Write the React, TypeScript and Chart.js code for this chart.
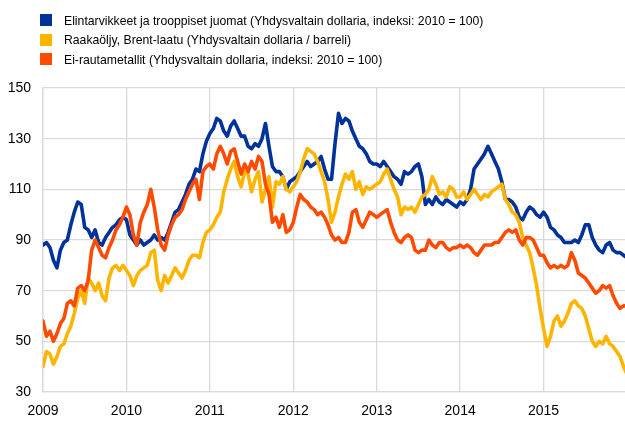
import React, { useEffect, useRef } from "react";
import { Chart, registerables } from "chart.js";

Chart.register(...registerables);

// ---- Data ----
const SERIES_NAMES = [
  "Elintarvikkeet ja trooppiset juomat (Yhdysvaltain dollaria, indeksi: 2010 = 100)",
  "Raakaöljy, Brent-laatu (Yhdysvaltain dollaria / barreli)",
  "Ei-rautametallit (Yhdysvaltain dollaria, indeksi: 2010 = 100)",
];

const X_TICK_YEARS = [2009, 2010, 2011, 2012, 2013, 2014, 2015];
const Y_TICKS = [30, 50, 70, 90, 110, 130, 150];

// semi-monthly observation dates, 2009.0 .. 2016.0
const DATES = Array.from({ length: 169 }, (_, i) => 2009 + i / 24);

const FOOD = [
  // 2009
  88, 89, 87, 82, 79, 86, 89, 90, 96, 101, 105, 104, 95, 94, 91, 94, 89, 88, 91, 93, 95, 96, 98, 99,
  // 2010
  98, 92, 90, 88, 90, 88, 89, 90, 92, 90, 91, 90, 93, 97, 101, 102, 105, 108, 112, 114, 118, 117, 124, 129,
  // 2011
  132, 134, 138, 137, 133, 131, 135, 137, 134, 131, 131, 127, 126, 128, 127, 130, 136, 127, 119, 117, 117, 115, 110, 113,
  // 2012
  114, 115, 117, 119, 121, 119, 120, 121, 123, 118, 114, 114, 128, 140, 136, 138, 137, 133, 130, 127, 126, 124, 121, 120,
  // 2013
  120, 119, 121, 119, 117, 115, 114, 112, 117, 116, 117, 119, 120, 115, 104, 106, 104, 107, 105, 104, 106, 105, 104, 103,
  // 2014
  105, 104, 106, 110, 118, 120, 122, 124, 127, 124, 121, 118, 113, 106, 106, 105, 103, 99, 98, 101, 103, 102, 100, 99,
  // 2015
  101, 99, 95, 94, 92, 91, 89, 89, 89, 90, 89, 92, 96, 96, 91, 88, 86, 85, 88, 89, 86, 85, 85, 84,
  // 2016
  83,
];

const BRENT = [
  // 2009
  40, 46, 45, 41, 44, 48, 49, 53, 56, 61, 67, 70, 65, 75, 73, 70, 73, 68, 66, 75, 79, 80, 78, 80,
  // 2010
  78, 76, 72, 76, 78, 79, 80, 85, 86, 74, 70, 76, 73, 76, 79, 77, 75, 78, 82, 84, 84, 83, 89, 93,
  // 2011
  94, 96, 99, 101, 109, 114, 118, 121, 115, 111, 117, 116, 109, 114, 117, 105, 110, 115, 103, 113, 112, 115, 110, 109,
  // 2012
  111, 113, 117, 122, 126, 125, 124, 121, 117, 113, 106, 97, 101, 107, 112, 116, 114, 117, 110, 113, 108, 111, 110, 111,
  // 2013
  112, 113, 116, 118, 114, 110, 107, 100, 103, 102, 103, 101, 104, 107, 108, 110, 115, 112, 108, 109, 107, 111, 110, 107,
  // 2014
  107, 109, 106, 108, 110, 108, 106, 108, 107, 109, 110, 111, 112, 106, 104, 101, 100, 97, 91, 88, 85, 79, 72, 63,
  // 2015
  55, 48, 52, 58, 60, 56, 58, 61, 65, 66, 64, 63, 60, 55, 50, 48, 50, 49, 52, 49, 48, 46, 44, 40,
  // 2016
  37,
];

const METALS = [
  // 2009
  58, 52, 54, 50, 53, 57, 59, 65, 66, 64, 71, 72, 70, 74, 86, 90, 87, 84, 83, 87, 90, 94, 96, 99,
  // 2010
  103, 100, 92, 88, 97, 101, 104, 110, 103, 94, 88, 86, 92, 96, 99, 100, 102, 106, 109, 112, 114, 106, 117, 119,
  // 2011
  120, 118, 124, 127, 124, 120, 125, 126, 121, 116, 120, 117, 121, 118, 123, 121, 112, 108, 97, 99, 95, 100, 93, 94,
  // 2012
  97, 103, 108, 106, 105, 103, 102, 100, 101, 99, 96, 92, 90, 91, 89, 89, 93, 101, 102, 97, 95, 98, 101, 100,
  // 2013
  99, 100, 101, 102, 97, 93, 90, 89, 91, 92, 91, 86, 85, 86, 86, 90, 88, 87, 89, 89, 87, 86, 87, 87,
  // 2014
  88, 87, 88, 87, 85, 84, 86, 88, 88, 88, 89, 89, 91, 93, 94, 93, 94, 90, 88, 91, 91, 90, 87, 84,
  // 2015
  84, 81, 79, 80, 79, 80, 79, 80, 85, 82, 77, 76, 75, 73, 71, 69, 70, 72, 71, 72, 68, 65, 63, 64,
  // 2016
  64,
];

const COLORS = ["#003299", "#FFB400", "#FF4B00"];
const FONT = "'Liberation Sans', Arial, Helvetica, sans-serif";
const GRID = "#d9d9d9";

export default function App() {
  const canvasRef = useRef<HTMLCanvasElement | null>(null);

  useEffect(() => {
    document.body.style.margin = "0";
    const canvas = canvasRef.current;
    if (!canvas) return;
    const series = [FOOD, BRENT, METALS];
    const chart = new Chart(canvas, {
      type: "line",
      data: {
        datasets: series.map((vals, k) => ({
          label: SERIES_NAMES[k],
          data: DATES.map((x, i) => ({ x, y: vals[i] })),
          borderColor: COLORS[k],
          backgroundColor: COLORS[k],
          borderWidth: 3.6,
          pointRadius: 0,
          tension: 0,
          fill: false,
          order: 2 - k,
        })),
      },
      options: {
        responsive: false,
        animation: false,
        layout: { padding: { top: 88, left: 0, right: 0, bottom: 0 } },
        plugins: { legend: { display: false }, tooltip: { enabled: false } },
        elements: { line: { borderJoinStyle: "round", borderCapStyle: "round" } },
        scales: {
          x: {
            type: "linear",
            min: 2009,
            max: 2016,
            afterBuildTicks: (s: any) => {
              s.ticks = X_TICK_YEARS.map((v) => ({ value: v }));
            },
            afterFit: (s: any) => {
              s.height = 29;
            },
            ticks: {
              autoSkip: false,
              maxRotation: 0,
              padding: 11,
              color: "#000",
              font: { family: FONT, size: 14 },
              callback: (v: any) => String(v),
            },
            grid: { color: GRID, lineWidth: 1.3, drawTicks: false },
            border: { color: GRID, width: 1.3 },
          },
          y: {
            min: 30,
            max: 150,
            afterBuildTicks: (s: any) => {
              s.ticks = Y_TICKS.map((v) => ({ value: v }));
            },
            afterFit: (s: any) => {
              s.width = 43;
            },
            ticks: {
              padding: 12,
              color: "#000",
              font: { family: FONT, size: 14 },
              callback: (v: any) => String(v),
            },
            grid: { color: GRID, lineWidth: 1.3, drawTicks: false },
            border: { color: GRID, width: 1.3 },
          },
        },
      },
    });
    return () => chart.destroy();
  }, []);

  const legendTops = [14, 33.5, 53];

  return (
    <div style={{ position: "relative", width: 625, height: 421, overflow: "hidden", background: "#fff" }}>
      <canvas ref={canvasRef} width={627} height={421} style={{ position: "absolute", left: 0, top: 0 }} />
      {SERIES_NAMES.map((name, k) => (
        <div key={k} style={{ position: "absolute", left: 40, top: legendTops[k], height: 12, zIndex: 2 }}>
          <div style={{ position: "absolute", left: 0, top: 0, width: 12, height: 12, background: COLORS[k] }} />
          <div
            style={{
              position: "absolute",
              left: 24,
              top: -0.5,
              whiteSpace: "nowrap",
              fontFamily: FONT,
              fontSize: 13,
              lineHeight: "14px",
              color: "#000",
              transform: "scaleX(0.94)",
              transformOrigin: "0 0",
            }}
          >
            {name}
          </div>
        </div>
      ))}
    </div>
  );
}
